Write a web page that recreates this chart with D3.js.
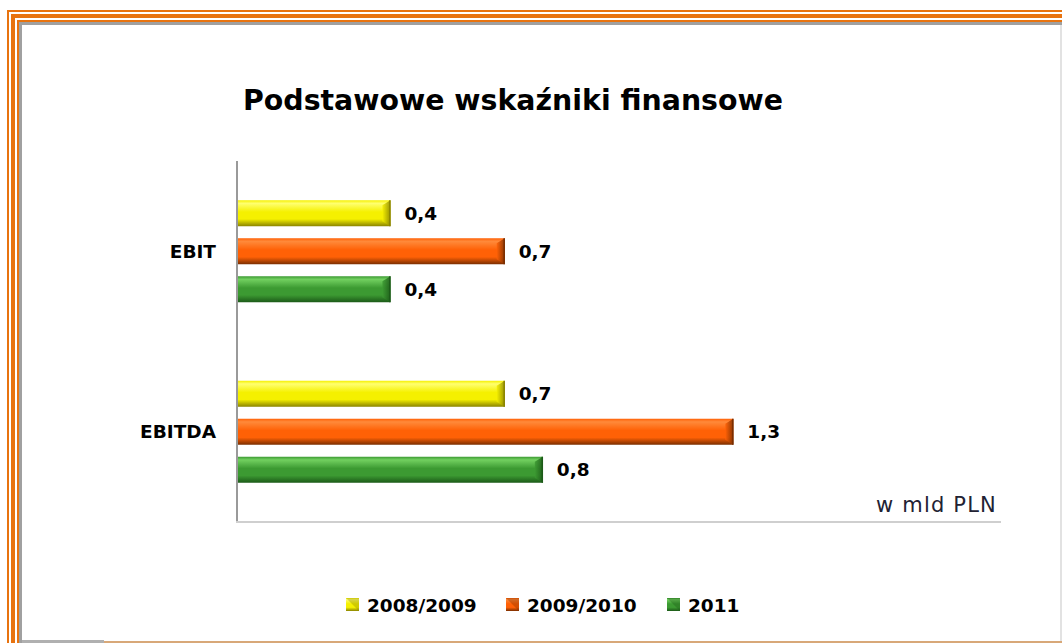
<!DOCTYPE html>
<html>
<head>
<meta charset="utf-8">
<script src="https://cdn.jsdelivr.net/npm/d3@7"></script>
<style>
  body { margin: 0; background: #fff; }
  svg { display: block; }
  text { font-family: "DejaVu Sans", sans-serif; }
</style>
</head>
<body>
<svg id="chart" width="1062" height="643"></svg>
<script>
"use strict";

// data
const categories = ["EBIT", "EBITDA"];
const seriesNames = ["2008/2009", "2009/2010", "2011"];
const values2008 = [0.4, 0.7];
const values2009 = [0.7, 1.3];
const values2011 = [0.4, 0.8];
const xTicks = [0, 2.0];
const unitLabel = "w mld PLN";
const titleText = "Podstawowe wskaźniki finansowe";

const plotLeft = 238, plotRight = 1000, plotTop = 161, plotBottom = 522;

const palette = {
    "2008/2009": { light: "#ffff70", main: "#f5f000", dark: "#8a8400" },
    "2009/2010": { light: "#ff8a3a", main: "#ff6106", dark: "#7a2e00" },
    "2011":      { light: "#72d060", main: "#3c9a32", dark: "#1c5a18" }
};

const svg = d3.select("svg#chart");
const defs = svg.append("defs");

// frame round the slide
const orange = "#e8730f";
[[10, 2], [14, 4], [20, 2]].forEach(d => {
    svg.append("rect").attr("x", 7 + (d[0] - 10)).attr("y", d[0])
        .attr("width", 1062).attr("height", d[1]).attr("fill", orange);
});
[[7, 2], [11, 4], [17, 2]].forEach(d => {
    svg.append("rect").attr("x", d[0]).attr("y", 10 + (d[0] - 7))
        .attr("width", d[1]).attr("height", 643).attr("fill", orange);
});
svg.append("rect").attr("x", 20).attr("y", 22).attr("width", 1042).attr("height", 3).attr("fill", "#a0a0a0");
svg.append("rect").attr("x", 19).attr("y", 22).attr("width", 3).attr("height", 621).attr("fill", "#a0a0a0");
svg.append("rect").attr("x", 22).attr("y", 640).attr("width", 82).attr("height", 3).attr("fill", "#b0b0b0");
svg.append("rect").attr("x", 104).attr("y", 641).attr("width", 958).attr("height", 2).attr("fill", "#d8a878");
svg.append("rect").attr("x", 1060).attr("y", 25).attr("width", 2).attr("height", 616).attr("fill", "#e2e2e2");

// gradients for the bevelled bars
seriesNames.forEach((s, i) => {
    const c = palette[s];
    const g = defs.append("linearGradient").attr("id", "grad" + i)
        .attr("x1", 0).attr("y1", 0).attr("x2", 0).attr("y2", 1);
    g.append("stop").attr("offset", "0%").attr("stop-color", c.main);
    g.append("stop").attr("offset", "12%").attr("stop-color", c.light);
    g.append("stop").attr("offset", "45%").attr("stop-color", c.main);
    g.append("stop").attr("offset", "72%").attr("stop-color", c.main);
    g.append("stop").attr("offset", "100%").attr("stop-color", c.dark);
    const e = defs.append("linearGradient").attr("id", "end" + i)
        .attr("x1", 0).attr("y1", 0).attr("x2", 1).attr("y2", 0);
    e.append("stop").attr("offset", "0%").attr("stop-color", c.main);
    e.append("stop").attr("offset", "100%").attr("stop-color", c.dark);
});

// scales
const xScale = d3.scaleLinear().domain(xTicks).range([plotLeft, plotRight]);
const yScale = d3.scaleBand().domain(categories).range([plotTop, plotBottom]);
const yInner = d3.scaleBand().domain(seriesNames).range([0, 114])
    .paddingInner(12 / 38).paddingOuter(6 / 38);

const locale = d3.formatLocale({ decimal: ",", thousands: " ", grouping: [3], currency: ["", " zł"] });
const fmt = locale.format(".1f");

// title
svg.append("text").attr("x", 243).attr("y", 110)
    .attr("font-size", 28.4).attr("font-weight", "bold").attr("fill", "#000")
    .text(titleText);

// axes lines
svg.append("line").attr("x1", plotLeft - 1).attr("x2", plotLeft - 1)
    .attr("y1", plotTop).attr("y2", plotBottom + 1)
    .attr("stroke", "#9a9a9a").attr("stroke-width", 2);
svg.append("line").attr("x1", plotLeft - 2).attr("x2", plotRight + 1)
    .attr("y1", plotBottom).attr("y2", plotBottom)
    .attr("stroke", "#cfcfcf").attr("stroke-width", 2);

// category labels
svg.append("g").selectAll("text")
    .data(categories)
    .join("text")
    .attr("x", 216)
    .attr("y", d => yScale(d) + yScale.bandwidth() / 2)
    .attr("dy", "0.36em")
    .attr("text-anchor", "end")
    .attr("font-size", 18.5)
    .attr("font-weight", "bold")
    .text(d => d);

// bars
const allSeries = [values2008, values2009, values2011];
const barData = [];
categories.forEach((cat, ci) => {
    seriesNames.forEach((s, si) => {
        barData.push({ cat: cat, series: s, si: si, value: allSeries[si][ci] });
    });
});

function barY(d) {
    return yScale(d.cat) + yScale.bandwidth() / 2 - 57 + yInner(d.series);
}

const bars = svg.append("g").selectAll("g")
    .data(barData)
    .join("g");

bars.append("rect")
    .attr("x", xScale(0))
    .attr("y", d => barY(d))
    .attr("width", d => xScale(d.value) - xScale(0))
    .attr("height", yInner.bandwidth())
    .attr("fill", d => "url(#grad" + d.si + ")");

// bevelled end of each bar
bars.append("polygon")
    .attr("points", d => {
        const x1 = xScale(d.value), y = barY(d), h = yInner.bandwidth(), b = 8;
        return [[x1 - b, y + 5], [x1, y], [x1, y + h], [x1 - b, y + h - 5]].join(" ");
    })
    .attr("fill", d => "url(#end" + d.si + ")")
    .attr("opacity", 0.85);

bars.append("line")
    .attr("x1", d => xScale(d.value) - 0.5).attr("x2", d => xScale(d.value) - 0.5)
    .attr("y1", d => barY(d)).attr("y2", d => barY(d) + yInner.bandwidth())
    .attr("stroke", d => palette[d.series].dark).attr("stroke-width", 1.5);

// value labels
bars.append("text")
    .attr("x", d => xScale(d.value) + 14)
    .attr("y", d => barY(d) + yInner.bandwidth() / 2)
    .attr("dy", "0.36em")
    .attr("font-size", 18.5)
    .attr("font-weight", "bold")
    .attr("fill", "#000")
    .text(d => fmt(d.value));

// unit note
svg.append("text").attr("x", 997).attr("y", 512)
    .attr("text-anchor", "end")
    .attr("font-size", 21)
    .attr("letter-spacing", 1.2)
    .attr("fill", "#222233")
    .text(unitLabel);

// legend
const legendX = [346, 506, 667];
const legend = svg.append("g").selectAll("g")
    .data(seriesNames)
    .join("g")
    .attr("transform", (d, i) => "translate(" + legendX[i] + ",605)");
legend.append("rect")
    .attr("x", 0).attr("y", -7).attr("width", 13).attr("height", 13)
    .attr("fill", (d, i) => "url(#grad" + i + ")");
legend.append("polygon")
    .attr("points", "0,-7 13,6 13,-7")
    .attr("fill", d => palette[d].dark).attr("opacity", 0.35);
legend.append("text")
    .attr("x", 21).attr("y", 0).attr("dy", "0.36em")
    .attr("font-size", 18.5).attr("font-weight", "bold")
    .text(d => d);
</script>
</body>
</html>
